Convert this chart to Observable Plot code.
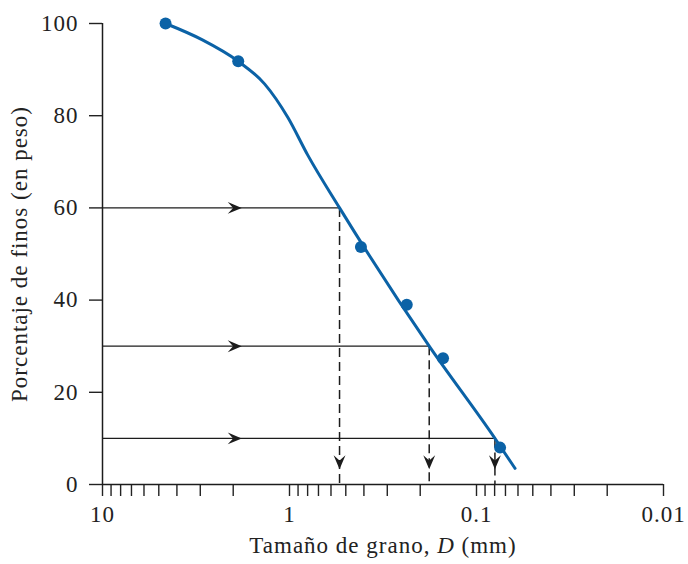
<!DOCTYPE html>
<html>
<head>
<meta charset="utf-8">
<script src="https://cdn.jsdelivr.net/npm/d3@7"></script>
<script src="https://cdn.jsdelivr.net/npm/@observablehq/plot@0.6"></script>
<style>
  html, body { margin: 0; padding: 0; background: #fff; }
  #chart svg { display: block; }
</style>
</head>
<body>
<div id="chart"></div>
<script>
// Measured sieve data (grain size in mm, percent finer by weight)
const sieveSize = [4.6, 1.88, 0.415, 0.236, 0.151, 0.0748];
const percentFiner = [100, 91.8, 51.5, 39.0, 27.4, 8.0];

// Smooth grading curve
const curveSize = [4.6, 2.94, 1.88, 1.36, 1.02, 0.8, 0.54, 0.179, 0.0797, 0.0622];
const curvePercent = [100, 96.5, 91.8, 86.9, 79.6, 71.5, 60, 30, 10, 3.5];

// D60, D30, D10 construction lines
const dLevels = [60, 30, 10];
const dSizes = [0.54, 0.179, 0.0797];
const arrowTipSize = 1.8;   // where the horizontal arrowheads sit
const arrowTipPercent = 3.3; // where the vertical arrowheads sit

// Axis ticks
const xMajor = [10, 1, 0.1, 0.01];
const xMinor = [9, 8, 7, 6, 5, 4, 3, 2, 0.9, 0.8, 0.7, 0.6, 0.5, 0.4, 0.3, 0.2,
                0.09, 0.08, 0.07, 0.06, 0.05, 0.04, 0.03, 0.02];
const xLabels = ["10", "1", "0.1", "0.01"];
const yTicks = [0, 20, 40, 60, 80, 100];

const points = sieveSize.map((d, i) => ({D: d, p: percentFiner[i]}));
const curve = curveSize.map((d, i) => ({D: d, p: curvePercent[i]}));
const levels = dLevels.map((p, i) => ({p, D: dSizes[i]}));

const blue = "#0b62a6";
const ink = "#1c1c1c";

const stealth = {
  draw(ctx, size) {
    const r = Math.sqrt(size / Math.PI);
    const L = 2 * r, W = 1.7 * r;
    ctx.moveTo(0, 0);
    ctx.lineTo(-L, -W / 2);
    ctx.lineTo(-0.62 * L, 0);
    ctx.lineTo(-L, W / 2);
    ctx.closePath();
  }
};

const plot = Plot.plot({
  width: 688,
  height: 564,
  marginLeft: 102,
  marginRight: 25,
  marginTop: 23,
  marginBottom: 80,
  style: {fontFamily: "'Liberation Serif', 'Times New Roman', serif", fontSize: "23px", letterSpacing: "1px", color: "#222", background: "#fff"},
  x: {type: "log", domain: [10, 0.01]},
  y: {domain: [0, 100]},
  marks: [
    Plot.axisX({
      ticks: xMajor.concat(xMinor),
      tickSize: 12,
      tickPadding: 9,
      tickFormat: d => { const i = xMajor.indexOf(d); return i >= 0 ? xLabels[i] : ""; },
      label: "Tamaño de grano, D (mm)",
      labelAnchor: "center",
      labelArrow: "none",
      labelOffset: 68,
      strokeWidth: 1.4
    }),
    Plot.axisY({
      ticks: yTicks,
      tickSize: 13,
      tickPadding: 11,
      label: "Porcentaje de finos (en peso)",
      labelAnchor: "center",
      labelArrow: "none",
      labelOffset: 92,
      strokeWidth: 1.4
    }),
    Plot.ruleY([0], {stroke: ink, strokeWidth: 1.5}),
    Plot.ruleX([10], {y1: 0, y2: 100, stroke: ink, strokeWidth: 1.5}),
    // horizontal construction lines
    Plot.link(levels, {x1: 10, x2: "D", y1: "p", y2: "p", stroke: ink, strokeWidth: 1.3}),
    // vertical dashed lines
    Plot.link(levels, {x1: "D", x2: "D", y1: "p", y2: 0, stroke: ink, strokeWidth: 1.5, strokeDasharray: "9,5"}),
    // arrowheads
    Plot.dot(levels, {x: arrowTipSize, y: "p", symbol: stealth, r: 7, fill: ink, stroke: "none"}),
    Plot.dot(levels, {x: "D", y: arrowTipPercent, symbol: stealth, r: 7, fill: ink, stroke: "none", rotate: 90}),
    // grading curve
    Plot.line(curve, {x: "D", y: "p", curve: "monotone-x", stroke: blue, strokeWidth: 3}),
    Plot.dot(points, {x: "D", y: "p", r: 6, fill: blue, stroke: "none"})
  ]
});

// italic D in the x-axis title
plot.querySelectorAll("text").forEach(t => {
  if (t.textContent === "Tamaño de grano, D (mm)") {
    t.textContent = "";
    const parts = [["Tamaño de grano, ", null], ["D", "italic"], [" (mm)", null]];
    for (const [s, st] of parts) {
      const ts = document.createElementNS("http://www.w3.org/2000/svg", "tspan");
      ts.textContent = s;
      if (st) ts.setAttribute("font-style", st);
      t.appendChild(ts);
    }
  }
});

document.getElementById("chart").appendChild(plot);
</script>
</body>
</html>
